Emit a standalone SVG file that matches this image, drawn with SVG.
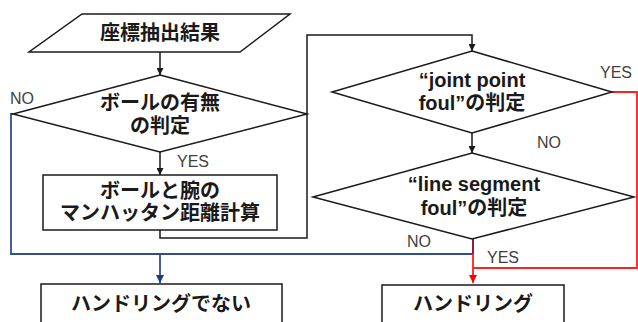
<svg xmlns="http://www.w3.org/2000/svg" width="638" height="322" viewBox="0 0 638 322">
<defs>
<style>
.shape{fill:#fff;stroke:#1a1a1a;stroke-width:1.5}
.t{font-family:"Liberation Sans","Noto Sans CJK JP",sans-serif;font-weight:bold;font-size:20px;fill:#1a1a1a;text-anchor:middle}
.lbl{font-family:"Liberation Sans","Noto Sans CJK JP",sans-serif;font-size:16px;fill:#404040}
.k{fill:none;stroke:#1a1a1a;stroke-width:1.5}
.b{fill:none;stroke:#2F4F8F;stroke-width:1.8}
.r{fill:none;stroke:#FF2020;stroke-width:1.8}
</style>
<marker id="ak" viewBox="0 0 10 10" refX="10" refY="5" markerWidth="7" markerHeight="7" markerUnits="userSpaceOnUse" orient="auto"><path d="M0,0 L10,5 L0,10 z" fill="#1a1a1a"/></marker>
<marker id="ab" viewBox="0 0 10 10" refX="10" refY="5" markerWidth="8" markerHeight="8" markerUnits="userSpaceOnUse" orient="auto"><path d="M0,0 L10,5 L0,10 z" fill="#1F3A7A"/></marker>
<marker id="ar" viewBox="0 0 10 10" refX="10" refY="5" markerWidth="8" markerHeight="8" markerUnits="userSpaceOnUse" orient="auto"><path d="M0,0 L10,5 L0,10 z" fill="#FF0000"/></marker>
</defs>
<rect width="638" height="322" fill="#fff"/>
<g id="connectors">
<path class="k" d="M160,52 L160,75" marker-end="url(#ak)"/>
<path class="k" d="M160,152 L160,175" marker-end="url(#ak)"/>
<path class="k" d="M160,230 L160,238 L307,238 L307,35 L472,35 L472,51" marker-end="url(#ak)"/>
<path class="k" d="M472,133 L472,153" marker-end="url(#ak)"/>
<path class="b" d="M13,114 L11,114 L11,254 L473,254"/>
<path class="b" d="M160,254 L160,283" marker-end="url(#ab)"/>
<path class="r" d="M612,92 L637,92 L637,268 L473,268"/>
<path class="r" d="M473,239 L473,283" marker-end="url(#ar)"/>
<path d="M473,239 L473,254" stroke="#7A2040" stroke-width="1.8" fill="none"/>
<text class="lbl" x="10" y="104">NO</text>
<text class="lbl" x="177" y="167">YES</text>
<text class="lbl" x="600" y="78">YES</text>
<text class="lbl" x="537" y="148">NO</text>
<text class="lbl" x="407" y="247">NO</text>
<text class="lbl" x="487" y="263">YES</text>
</g>
<g id="input">
<polygon class="shape" points="82,14 290,14 240,52 29,52"/>
<text class="t" x="160" y="40">座標抽出結果</text>
</g>
<g id="pole-check">
<polygon class="shape" points="160,75 307,114 160,152 13,114"/>
<text class="t" x="160" y="110">ボールの有無</text>
<text class="t" x="160" y="133">の判定</text>
</g>
<g id="distance">
<rect class="shape" x="43" y="175" width="234" height="55"/>
<text class="t" x="160" y="198">ボールと腕の</text>
<text class="t" x="160" y="220">マンハッタン距離計算</text>
</g>
<g id="joint-point">
<polygon class="shape" points="472,51 612,92 472,133 332,92"/>
<text class="t" x="472" y="87">“joint point</text>
<text class="t" x="472" y="110">foul”の判定</text>
</g>
<g id="line-segment">
<polygon class="shape" points="472,153 634,197 472,239 313,197"/>
<text class="t" x="474" y="191">“line segment</text>
<text class="t" x="474" y="215">foul”の判定</text>
</g>
<g id="not-handling">
<rect class="shape" x="41" y="284" width="241" height="50"/>
<text class="t" x="161" y="311">ハンドリングでない</text>
</g>
<g id="handling">
<rect class="shape" x="382" y="285" width="182" height="50"/>
<text class="t" x="473" y="311">ハンドリング</text>
</g>
</svg>
